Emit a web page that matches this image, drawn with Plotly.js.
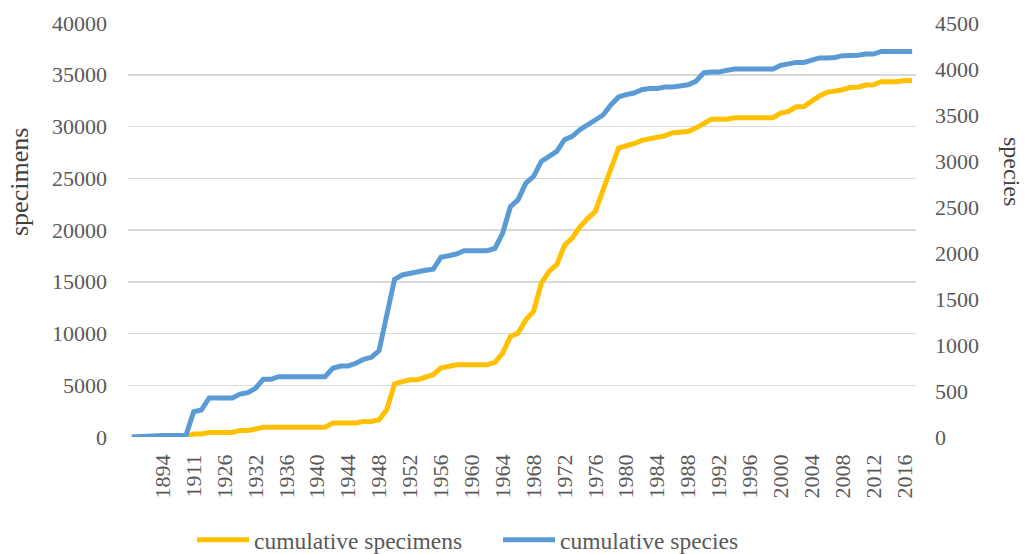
<!DOCTYPE html>
<html>
<head>
<meta charset="utf-8">
<script src="https://cdn.plot.ly/plotly-3.0.1.min.js"></script>
<style>html,body{margin:0;padding:0;background:#fff;}#chart{width:1032px;height:554px;}</style>
</head>
<body>
<div id="chart"></div>
<script>
var years = ['1885','1888','1890','1892','1894','1898','1902','1907','1911','1914','1917','1921','1926','1928','1929','1930'];
for (var yr = 1932; yr <= 2017; yr++) { years.push(String(yr)); }

var tickYears = ['1894','1911','1926','1932','1936','1940','1944','1948','1952','1956','1960','1964','1968','1972','1976','1980','1984','1988','1992','1996','2000','2004','2008','2012','2016'];

var specimens = [0,0,10,10,10,10,10,10,290,300,445,445,445,445,640,640,780,930,
  930,930,930,930,930,930,930,930,
  1352,1352,1352,1352,1507,1507,1670,2637,5150,5370,5535,5535,5750,6018,6665,6850,6984,6984,6984,6984,6984,7206,8100,9718,
  10045,11331,12133,14876,15997,16644,18500,19223,20300,21100,21793,23890,25985,27918,28139,28333,28655,28800,28950,29100,
  29400,29450,29522,29848,30300,30700,30700,30700,30850,30850,30850,30850,30850,30850,31300,31454,31900,31936,32450,32950,
  33300,33386,33550,33780,33800,34000,34032,34320,34320,34320,34448,34448];

var species = [0,5,15,15,15,15,15,15,275,293,424,424,424,424,467,482,529,627,627,655,
  655,655,655,655,655,655,747,772,772,801,845,866,938,1330,1714,1761,1780,1800,1812,1823,
  1953,1970,1989,2025,2025,2025,2025,2051,2217,2503,2580,2761,2833,2996,3050,3104,3232,3268,3340,3395,
  3449,3500,3610,3696,3721,3739,3775,3789,3789,3804,3804,3815,3829,3865,3957,3968,3968,3985,4000,4000,
  4000,4000,4000,4000,4040,4055,4072,4072,4100,4120,4120,4125,4145,4145,4150,4163,4163,4191,4191,4191,
  4191,4191];

var seriesNames = ['cumulative specimens', 'cumulative species'];
var axisTitles = ['specimens', 'species'];

var FONT = 'Liberation Serif, Times New Roman, serif';
var GREY = '#595959';

var traces = [
  {x: years, y: specimens, type: 'scatter', mode: 'lines', name: seriesNames[0],
   line: {color: '#FFC000', width: 5, shape: 'linear'}, yaxis: 'y', hoverinfo: 'skip'},
  {x: years, y: species, type: 'scatter', mode: 'lines', name: seriesNames[1],
   line: {color: '#5B9BD5', width: 5, shape: 'linear'}, yaxis: 'y2', hoverinfo: 'skip'}
];

var layout = {
  width: 1032, height: 554,
  margin: {l: 128, r: 116, t: 23, b: 117, pad: 0, autoexpand: false},
  paper_bgcolor: '#ffffff', plot_bgcolor: '#ffffff',
  font: {family: FONT, size: 22, color: GREY},
  showlegend: true,
  legend: {orientation: 'h', x: (192 - 128) / 788, xanchor: 'left', y: -0.249, yanchor: 'middle',
           font: {family: FONT, size: 23.5, color: GREY}, entrywidth: 239, entrywidthmode: 'pixels',
           bgcolor: 'rgba(0,0,0,0)', itemwidth: 52},
  xaxis: {type: 'category', range: [-0.5, years.length - 0.5], tickmode: 'array',
          tickvals: tickYears, ticktext: tickYears, tickangle: -90, showgrid: false,
          zeroline: false, showline: false, ticks: '', ticklabelstandoff: 12,
          tickfont: {family: FONT, size: 22, color: GREY}, fixedrange: true},
  yaxis: {range: [0, 40000], dtick: 5000, tick0: 0, tickformat: 'd', showgrid: true,
          gridcolor: '#D9D9D9', gridwidth: 1.5, zeroline: false, showline: false, ticks: '',
          ticklabelstandoff: 20, tickfont: {family: FONT, size: 22, color: GREY}, fixedrange: true},
  yaxis2: {range: [0, 4500], dtick: 500, tick0: 0, tickformat: 'd', overlaying: 'y', side: 'right',
           showgrid: false, zeroline: false, showline: false, ticks: '', ticklabelstandoff: 18,
           tickfont: {family: FONT, size: 22, color: GREY}, fixedrange: true},
  annotations: [
    {text: axisTitles[0], xref: 'paper', yref: 'paper', x: (19 - 128) / 788, y: (437 - 182) / 414,
     xanchor: 'center', yanchor: 'middle', textangle: -90, showarrow: false,
     font: {family: FONT, size: 26, color: '#404040'}},
    {text: axisTitles[1], xref: 'paper', yref: 'paper', x: (1012 - 128) / 788, y: (437 - 172) / 414,
     xanchor: 'center', yanchor: 'middle', textangle: 90, showarrow: false,
     font: {family: FONT, size: 24, color: '#404040'}}
  ]
};

Plotly.newPlot('chart', traces, layout, {staticPlot: true, displayModeBar: false});
</script>
</body>
</html>
